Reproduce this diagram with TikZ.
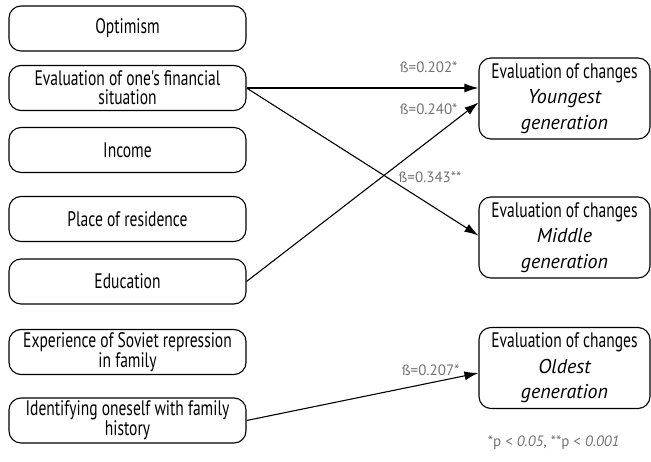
\documentclass[tikz,border=0pt]{standalone}
\usepackage{fontspec}
\setmainfont{PT Sans}
\newfontfamily\narrowfont[FakeStretch=0.74]{PT Sans}
\usepackage{tikz}
\usetikzlibrary{positioning,arrows.meta}
\definecolor{betagray}{gray}{0.45}

\begin{document}
\begin{tikzpicture}[x=1pt, y=-1pt, line width=1.1pt,
  box/.style={draw, rounded corners=12pt, minimum width=237pt, minimum height=45pt, align=center, inner sep=0pt, font=\narrowfont\fontsize{21}{19}\selectfont},
  res/.style={draw, rounded corners=12pt, minimum width=171pt, minimum height=81pt, align=center, inner sep=0pt, font=\fontsize{20}{25.5}\selectfont},
  beta/.style={font=\fontsize{15}{17}\selectfont, text=betagray, inner sep=1pt}]
\useasboundingbox (0,0) rectangle (651,462);
% predictors
\node[box] (optim) at (127.5,28.5) {Optimism};
\node[box] (fin) at (127.5,88) {Evaluation of one's financial\\situation};
\node[box] (income) at (127.5,150) {Income};
\node[box] (place) at (127.5,219) {Place of residence};
\node[box] (edu) at (127.5,281.5) {Education};
\node[box] (repr) at (127.5,352) {Experience of Soviet repression\\in family};
\node[box] (ident) at (127.5,420.5) {Identifying oneself with family\\history};
% outcomes
\node[res] (young) at (564.5,98.5) {{\narrowfont\fontsize{21}{25.5}\selectfont Evaluation of changes}\\\itshape Youngest\\\itshape generation};
\node[res] (mid) at (564.5,237.5) {{\narrowfont\fontsize{21}{25.5}\selectfont Evaluation of changes}\\\itshape Middle\\\itshape generation};
\node[res] (old) at (564.5,368) {{\narrowfont\fontsize{21}{25.5}\selectfont Evaluation of changes}\\\itshape Oldest\\\itshape generation};
% coefficients
\node[beta, anchor=east] (b1) at (459,67) {ß=0.202*};
\node[beta, anchor=east] (b2) at (459,109) {ß=0.240*};
\node[beta, anchor=east] (b3) at (463,177) {ß=0.343**};
\node[beta, anchor=east] (b4) at (461,370) {ß=0.207*};
\node[beta, anchor=east] (note) at (621,443) {*p < \textit{0.05}, **p < \textit{0.001}};
\draw[-{Latex[length=14pt, width=9pt]}] (fin.east) -- (fin.east -| young.west);
\draw[-{Latex[length=14pt, width=9pt]}] (fin.east) -- ([yshift=2pt]mid.west);
\draw[-{Latex[length=14pt, width=9pt]}] (edu.east) -- ([yshift=-4pt]young.west);
\draw[-{Latex[length=14pt, width=9pt]}] (ident.east) -- ([yshift=-5pt]old.west);
\end{tikzpicture}
\end{document}
